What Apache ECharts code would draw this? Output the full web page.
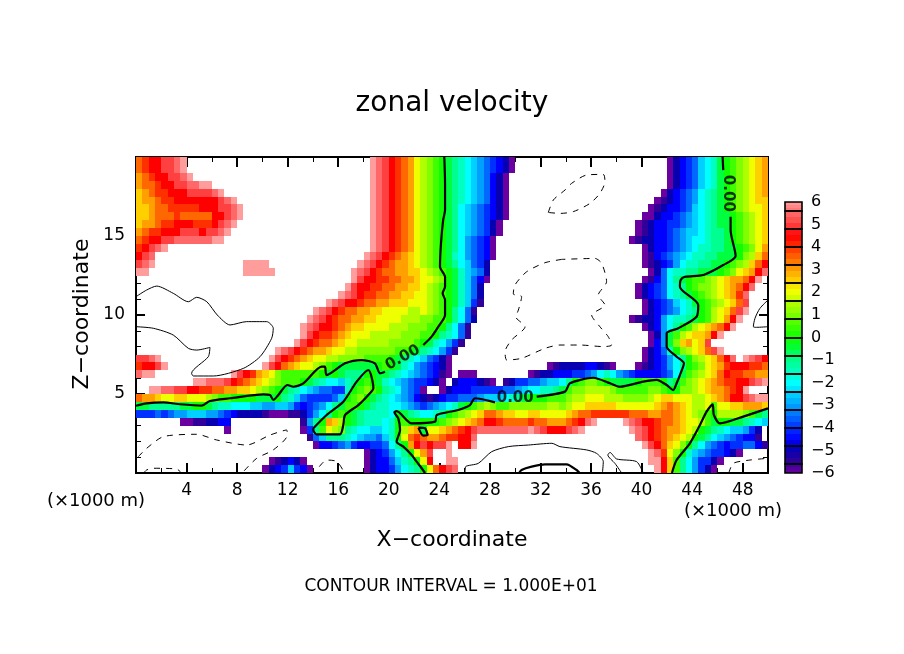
<!DOCTYPE html>
<html>
<head>
<meta charset="utf-8">
<style>html,body{margin:0;padding:0;background:#fff}#chart{width:904px;height:654px}</style>
<script src="https://cdn.jsdelivr.net/npm/echarts@6/dist/echarts.min.js"></script>
</head>
<body>
<div id="chart"></div>
<script>
// level letters: a = -6, m = 0, y = +6 in steps of 0.5, "." or a gap = beyond the +-6 range (left white)
var levelLetters = "abcdefghijklmnopqrstuvwxy";
var cellSize = 0.5;
var levelColors = [
  "#6a00a0", "#300098", "#0800b0", "#0000ff", "#0030ff", "#0068ff", "#00a0ff", "#00d0ff", "#00ffff",
  "#00ffc0", "#00ff90", "#00ff40", "#10ff00", "#40ff00", "#80ff00", "#b0ff00", "#f0ff00", "#ffd000",
  "#ffa000", "#ff6800", "#ff3000", "#ff0000", "#ff4040", "#ff6868", "#ff9c9c"
];

// one string per row of cells, top row first, "column:letters"
var fieldRows = [
  "0:tuvvwwxy 37:yxwvutsqponmlkjihgfedca 84:acdefhijlmnopqrs",
  "0:tuvvwwxy 37:yxwvutsqponmlkjihgfedca 84:acdefhijlmnopqrs",
  "0:stuvvwwxy 37:yxwvutsqponmlkjihgfdca 84:acdefhijlmnopqrs",
  "0:sttuvvwwxxyy 37:yxwvutsqponmlkjihgfdca 84:acdefhijlmnopqrs",
  "0:rstuuvvvwwwwxy 37:yxwvutsqponmlkjihgfdca 83:acdefgijklmnopqrs",
  "0:rsstuuvvvvvvvwxy 37:yxwvutsqponmlkjihgfdca 82:abcdefgijklmnopqrr",
  "0:rrsttuuuuuvvvwwxy 37:yxwvutsqponmlkihgfedca 81:abcddefhijklmnopqqr",
  "0:rrstttutttttvvwxy 37:yxwvutsqponmlkihgfedca 80:aacddefghijkllmnopqr",
  "0:rsstuuvvvuuuvwxy 37:yxwvutsqponmlkihgfeca 79:abcddeefghijkllmnopqr",
  "0:stuuvvvwwwvwwxy 37:yxwvutsqponmlkihgfeca 79:abcddefghhijkklmnopqr",
  "0:tuvvwwxxxxxxyy 37:yxwvutsqponmlkigfeda 78:abccddefghiijkklmnopqr",
  "0:uvwxy 37:yxwvutsqponmlkigfeda 80:acddefghijjkkllmnoqs",
  "0:vwx 36:yxwvutsrqponmljigfeda 80:abdefghijjkklllmoprt",
  "0:wxy 17:yyyy 35:yxwvutssrqponmlkihfec 80:abcdegijjkkllmnoprtv",
  "0:yy 17:yyyyy 34:yxwvuttssrrqponmljhgfc 81:acfijjkklllmnoqrsvx",
  "34:ywvvuuttssrqqpomljhfda 80:abdfiklmnnopqrsstvy",
  "33:ywvvuuttssrrqponmljhfc 79:acdefijkmnoopqrstvx",
  "32:yxwvuuttssrrqqponmljhfc 79:acdefijklmnopqrsux",
  "30:yxwvvuttssrrrqqqponmljheb 80:acdefhijlmnopqrtw",
  "28:yxwvuttssrrqqqqppqponmkifb 80:acdefgijkmnpqrtwy",
  "27:yxwvuttssrrqqqqpppoonnmkifc 78:abccdgijjklmnpqsvy",
  "26:yxwvvutsrrqqqqpppooonnmkifb 80:acdgikmnpqrstvy",
  "26:ywvuutsrqqqpppppooonnmkjifb 81:acglnpqrrsvy",
  "25:ywvuttsrqqpppppoooonmljigeb 81:adglorsqrw",
  "22:yxwvutssrqqppoooooonnmlkjigeb 80:acdfjmopqrtwy",
  "0:wwxy 21:ywvutsrqqppoooonnnnmlkjihfeca 80:acdegikmopqrtvx 96:yxwv",
  "0:uvvwy 20:ywvtsrqqponmllllllmnmljigfedca 65:abccccddcba 79:abcdegikmnoqrsuvvvuut",
  "0:xyy 15:ywvusrqonnnnnnmlmlkkkmmllkjihgfedba 51:aaa 62:abccd 67:ddeefgijigfeddddefilnopqrtvuuttss",
  "9:yyxxxwvutsrqponnnmlkjiihjkmnmljihgfeedca 50:cdddcba 58:bceeffghhikmnoonmllllmnnnmklnopqrstuuvvwxy",
  "2:yyxxwwvvuuttssrrqponmlkjihgffeejmnonmkjigfea 48:acdddeeeeeffghiijjklnoopppponnnnnoonmmoopqrsstuvy",
  "0:tssrqqrrqqqponnmmmmlllmkjhfeeeefhmnomlkjihgfdcbcdeefffghhhijklmmmnnnoppqqqpppoooopqrrqqqppqrstvvwxyy",
  "0:llkkkkkllmmlkjjiiihhgghhgedefgiklnnmlkjjiihgfefghijlmnoponnooooooppopqqrrrrrqqqqqqrstsrqppqnqqrrsssr",
  "0:eeefefgghhhggfedccccbaaabbcegikmnmlkjjjjimlkjiijkmnopqrttsrrqqrrqqqqrsttuuuuuutttssttsrqponmppppOnlk".toLowerCase(),
  "7:aabbccdd 26:bgkmsrpmlkjjjijmnmmmmmnopqrstvvuttttuttssstuvxy 77:yxwvvuttsrqqpnlmmllkjih",
  "14:a 26:aeknqpokjiihhijmprslqqrstuvwxxxxxxxxyxwvvvwxy 78:yxwvutssrqpmlkjihhgec",
  "27:bfhkkkjihggfhjmqtutsstuuvvx 79:xwvutsrqpmlkihgfeddb",
  "28:addefgeddeefikmsvwvwwy 51:vvy 80:ywvtrqomkigfedeeffdb",
  "36:acdegikmqsw 49:y 81:yxuqomjhgfeedca",
  "21:abcdca 36:acddfhjkmqv 49:yy 81:yyvrnkigeeca",
  "20:acdeheda 36:acddegijkmqtvwx 82:yvrnkigeca"
];

// contours in km (x, z)
var zeroUpper = [[24.39,20],[24.45,18.33],[24.45,16.64],[24.3,16],[24.13,14.53],[24.05,13.06],[24.45,12.42],[24.45,11.79],[24.26,11.37],[24.45,10.95],[24.45,10],[23.92,9.26],[23.39,8.63],[22.73,8.1]];
var zeroUpperLeft = [[19.7,6.41],[19.3,6.31],[18.9,6.94],[17.85,7.15],[16.54,6.94],[15.08,6.2],[14.95,6.73],[14.69,6.73],[13.24,5.67],[12.45,5.46],[11.97,5.57],[11.26,4.94],[10.86,4.62],[10.6,4.94],[10.07,4.98],[7.44,4.73],[5.85,4.56],[5.2,4.26],[3.48,4.35],[2.16,4.47],[0.84,4.41],[0,4.26]];
var zeroIsland = [[14.03,2.83],[15.08,3.67],[16.4,4.51],[17.46,5.78],[18.38,6.52],[18.78,5.36],[18.38,4.94],[17.59,4.3],[16.54,3.67],[16.4,3.04],[16.14,2.45],[14.29,2.45],[14.03,2.72],[14.03,2.83]];
var zeroLowerA = [[22.87,0],[22.6,0.3],[22.2,0.72],[21.81,1.14],[21.15,1.67],[20.62,1.98],[20.89,2.72],[20.75,3.46],[20.44,3.84],[20.62,3.92],[21.81,3.14],[23.66,3.25],[23.79,3.67],[25.5,3.99],[26.42,4.3],[26.82,4.73],[28.4,4.47]];
var zeroLowerB = [[31.7,4.83],[33.94,5.15],[34.33,5.68],[36.18,6.03],[37.5,5.68],[38.29,5.46],[40.13,5.78],[41.19,5.89],[41.98,5.57],[42.5,5.25],[42.77,5.68],[43.03,6.2],[43.35,6.94],[42.77,7.36],[41.98,8],[41.98,8.84],[42.9,9.16],[44.35,9.89],[44.48,10.63],[43.03,11.79],[43.09,12.21],[43.43,12.42],[44.88,12.53],[46.46,13.16],[47.44,13.73],[47.04,15.38],[47.04,16.22]];
var zeroTopRight = [[46.46,19.17],[46.41,20]];
var zeroSmall = [[22.34,2.87],[22.86,2.83],[23.07,2.4],[22.73,2.36],[22.34,2.87]];
var zeroRight = [[42.4,0],[42.77,0.82],[43.82,1.88],[44.62,3.04],[45.14,3.88],[45.62,4.35],[45.72,3.67],[46.2,3.14],[48.04,3.57],[50,4.09]];
var zeroBottom = [[30.3,0],[30.5,0.19],[31.3,0.4],[32.36,0.55],[33.94,0.55],[34.07,0.55],[34.86,0.19],[35.1,0]];
var thickLines = [zeroUpper, zeroUpperLeft, zeroIsland, zeroLowerA, zeroLowerB, zeroTopRight, zeroSmall, zeroRight, zeroBottom];

var thinTopLeft = [[0,11.16],[0.84,11.58],[1.64,11.83],[2.95,11.37],[4.14,10.84],[4.8,11.12],[5.6,10.84],[6.43,10],[7.44,9.37],[8.75,9.58],[10.34,9.58],[10.86,9.16],[10.73,8.52],[9.81,7.36],[8.49,6.62],[6.12,6.14],[4.54,6.14],[4.4,6.31],[5.72,7.36],[5.85,7.95],[4.8,7.78],[4.14,7.89],[2.95,8.73],[1.37,9.16],[0,9.26]];
var thinBottom = [[26.03,0],[26.08,0.4],[27.08,0.61],[28.14,1.35],[29.46,1.67],[31.04,1.77],[32.9,1.88],[33.54,1.67],[35.65,1.46],[36.44,1.24],[36.97,0.72],[36.9,0]];
var thinBottomB = [[38.42,0],[37.9,0.6],[37.33,1.14],[37.5,1.3],[38.02,0.89],[39.6,0.72],[40.13,0]];
var thinRight = [[50,10.95],[49.36,10.42],[48.97,9.79],[48.84,9.26],[49.1,9.22],[50,9.26]];
var thinLines = [thinTopLeft, thinBottom, thinBottomB, thinRight];

var dashTop = [[32.62,16.49],[33.02,17.28],[33.94,17.91],[34.46,18.33],[35.65,18.86],[36.97,18.9],[37.1,18.44],[36.7,17.7],[35.91,17.06],[34.59,16.54],[33.54,16.43],[32.62,16.49]];
var dashCentre = [[33.68,13.52],[32.36,13.31],[30.91,12.74],[29.98,11.9],[29.85,11.33],[30.51,11.16],[30.25,10.31],[30.04,9.89],[30.78,9.26],[29.72,8.42],[29.2,7.68],[29.33,7.15],[30.51,7.26],[32.36,7.89],[33.54,8.1],[35.12,8.1],[36.97,8],[37.63,8.1],[37.36,8.63],[36.7,9.26],[36.05,9.99],[37.1,10.63],[36.57,11.26],[37.23,12.11],[36.84,13.27],[36.31,13.58],[33.68,13.52]];
var dashLeft = [[0.18,1.03],[0.84,1.56],[2.16,2.3],[4.8,2.45],[6.38,2.09],[8.75,1.77],[10.6,2.4],[11.92,2.72],[11.97,2.4],[10.86,1.46],[9.55,0.93],[8.4,0]];
var dashLeftLow = [[0.6,0],[0.84,0.19],[1.37,0.3],[3.22,0.25],[3.6,0]];
var dashMid = [[14.5,0.4],[15.08,0.82],[15.9,0.72],[16.5,0]];
var dashRight = [[46.9,0],[47.25,0.61],[48.57,0.82],[50,0.93]];
var dashLines = [dashTop, dashCentre, dashLeft, dashLeftLow, dashMid, dashRight];

var contourLabelX = [21.1, 30.0, 46.86];
var contourLabelZ = [7.3, 4.73, 17.7];
var contourLabelAngle = [29, 0, -90];
var contourLabelText = ["0.00", "0.00", "0.00"];

var barEdges = [-6, -5.6, -4.8, -4, -3.2, -2.4, -1.6, -0.8, 0, 0.8, 1.6, 2.4, 3.2, 4, 4.8, 5.6, 6];

var fontName = '"DejaVu Sans"';

// cells as [x, z, value]
var fieldData = [];
fieldRows.forEach(function (row, r) {
  var z = 19.5 - r * cellSize;
  row.split(" ").forEach(function (part) {
    var bits = part.split(":");
    var start = parseInt(bits[0], 10);
    for (var i = 0; i < bits[1].length; i++) {
      var lvl = levelLetters.indexOf(bits[1][i]);
      if (lvl >= 0) {
        fieldData.push([(start + i) * cellSize, z, lvl * 0.5 - 6]);
      }
    }
  });
});

// colour key cells as [lo, hi, value], three shades in each box
var barData = [];
var boxData = [];
for (var b = 0; b < barEdges.length - 1; b++) {
  var lo = barEdges[b], hi = barEdges[b + 1];
  boxData.push([lo, hi]);
  for (var s = 0; s < 3; s++) {
    var a = lo + (hi - lo) * s / 3, c = lo + (hi - lo) * (s + 1) / 3;
    barData.push([a, c, (a + c) / 2]);
  }
}

function cellItem(params, api) {
  var x = api.value(0), z = api.value(1);
  var p0 = api.coord([x, z + cellSize]);
  var p1 = api.coord([x + cellSize, z]);
  var left = Math.round(p0[0]), top = Math.round(p0[1]);
  return {
    type: "rect",
    shape: { x: left, y: top, width: Math.round(p1[0]) - left, height: Math.round(p1[1]) - top },
    style: { fill: api.visual("color") }
  };
}

function barItem(params, api) {
  var p0 = api.coord([0, api.value(1)]);
  var p1 = api.coord([1, api.value(0)]);
  return {
    type: "rect",
    shape: { x: p0[0], y: Math.round(p0[1]), width: p1[0] - p0[0], height: Math.round(p1[1]) - Math.round(p0[1]) },
    style: { fill: api.visual("color") }
  };
}

function boxItem(params, api) {
  var p0 = api.coord([0, api.value(1)]);
  var p1 = api.coord([1, api.value(0)]);
  return {
    type: "rect",
    shape: { x: p0[0], y: Math.round(p0[1]), width: p1[0] - p0[0], height: Math.round(p1[1]) - Math.round(p0[1]) },
    style: { fill: "none", stroke: "#000", lineWidth: 1.6 }
  };
}

function frameAxis(position, interval, length, width, labels) {
  return {
    type: "value",
    position: position,
    min: 0,
    max: 50,
    interval: interval,
    axisLine: { show: true, onZero: false, lineStyle: { color: "#000", width: 2 } },
    axisTick: { show: true, inside: true, length: length, lineStyle: { color: "#000", width: width } },
    axisLabel: {
      show: labels,
      margin: 9,
      color: "#000",
      fontFamily: fontName,
      fontSize: 17,
      formatter: function (v) { return v > 0 && v % 4 === 0 ? String(v) : ""; }
    },
    splitLine: { show: false }
  };
}

function sideAxis(position, labels) {
  return {
    type: "value",
    position: position,
    min: 0,
    max: 20,
    interval: 5,
    axisLine: { show: true, onZero: false, lineStyle: { color: "#000", width: 2 } },
    axisTick: { show: true, inside: true, length: 9, lineStyle: { color: "#000", width: 2 } },
    minorTick: { show: true, splitNumber: 5, length: 5, lineStyle: { color: "#000", width: 1 } },
    axisLabel: {
      show: labels,
      margin: 11,
      color: "#000",
      fontFamily: fontName,
      fontSize: 17,
      formatter: function (v) { return v > 0 && v < 20 ? String(v) : ""; }
    },
    splitLine: { show: false }
  };
}

function lineSeries(points, width, dashed) {
  return {
    type: "line",
    data: points,
    symbol: "none",
    smooth: 0.25,
    silent: true,
    z: 5,
    lineStyle: { color: "#000", width: width, type: dashed ? [6, 6] : "solid" }
  };
}

function freeText(text, x, y, size, rotation) {
  return {
    type: "text",
    x: x,
    y: y,
    rotation: rotation || 0,
    style: { text: text, font: size + "px " + fontName, fill: "#000", align: "center", verticalAlign: "middle" }
  };
}

var series = [
  { type: "custom", renderItem: cellItem, data: fieldData, encode: { x: 0, y: 1 }, silent: true, z: 2 },
  { type: "custom", renderItem: barItem, data: barData, xAxisIndex: 4, yAxisIndex: 2, silent: true, z: 2, encode: { y: [0, 1] } },
  { type: "custom", renderItem: boxItem, data: boxData, xAxisIndex: 4, yAxisIndex: 2, silent: true, z: 3, encode: { y: [0, 1] } }
];
thickLines.forEach(function (p) { series.push(lineSeries(p, 2.2, false)); });
thinLines.forEach(function (p) { series.push(lineSeries(p, 1, false)); });
dashLines.forEach(function (p) { series.push(lineSeries(p, 1, true)); });
series.push({
  type: "scatter",
  symbolSize: 1,
  z: 6,
  silent: true,
  itemStyle: { color: "transparent" },
  data: contourLabelText.map(function (t, i) {
    return {
      value: [contourLabelX[i], contourLabelZ[i]],
      label: {
        show: true,
        position: "inside",
        formatter: t,
        rotate: contourLabelAngle[i],
        color: "#000",
        fontFamily: fontName,
        fontWeight: "bold",
        fontSize: 15
      }
    };
  })
});

var myChart = echarts.init(document.getElementById("chart"), null, { renderer: "canvas", width: 904, height: 654 });

var option = {
  animation: false,
  backgroundColor: "#fff",
  grid: [
    { left: 136, top: 157, width: 632, height: 316 },
    { left: 785, top: 202, width: 17, height: 271 }
  ],
  xAxis: [
    frameAxis("bottom", 4, 10, 2, true),
    frameAxis("top", 4, 10, 2, false),
    frameAxis("bottom", 2, 5, 1, false),
    frameAxis("top", 2, 5, 1, false),
    { type: "value", gridIndex: 1, min: 0, max: 1, show: false }
  ],
  yAxis: [
    sideAxis("left", true),
    sideAxis("right", false),
    {
      type: "value",
      gridIndex: 1,
      position: "right",
      min: -6,
      max: 6,
      interval: 1,
      axisLine: { show: false },
      axisTick: { show: false },
      splitLine: { show: false },
      axisLabel: {
        margin: 9,
        align: "left",
        color: "#000",
        fontFamily: fontName,
        fontSize: 16,
        formatter: function (v) { return String(v).replace("-", "\u2212"); }
      }
    }
  ],
  visualMap: {
    show: false,
    type: "continuous",
    min: -6,
    max: 6,
    dimension: 2,
    seriesIndex: [0, 1],
    inRange: { color: levelColors }
  },
  graphic: [
    freeText("zonal velocity", 452, 104, 28),
    freeText("X\u2212coordinate", 452, 540, 22),
    freeText("Z\u2212coordinate", 82, 314, 22, Math.PI / 2),
    freeText("(\u00d71000 m)", 96, 501, 18),
    freeText("(\u00d71000 m)", 733, 511, 18),
    freeText("CONTOUR INTERVAL = 1.000E+01", 451, 587, 17)
  ],
  series: series
};

myChart.setOption(option);
</script>
</body>
</html>
